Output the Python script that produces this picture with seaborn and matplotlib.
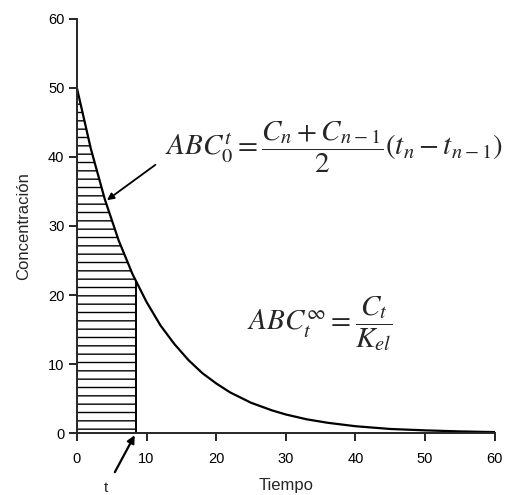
import numpy as np
import pandas as pd
import matplotlib
matplotlib.use("Agg")
import matplotlib.pyplot as plt
import seaborn as sns

# ---------------------------
# Data
# ---------------------------
tiempo = [0, 2, 4, 6, 8, 10, 12, 14, 16, 18, 20, 22, 25, 28, 30, 33, 36,
          40, 45, 50, 55, 60]
concentracion = [50.0, 41.2, 33.9, 27.9, 23.0, 19.0, 15.6, 12.9, 10.6, 8.7,
                 7.2, 5.9, 4.4, 3.3, 2.7, 2.0, 1.5, 1.0, 0.6, 0.4, 0.25, 0.15]

# area under the curve up to t
t_corte = 8.5
area_t = [0, 2, 4, 6, 8, 8.5]
area_c = [50.0, 41.2, 33.9, 27.9, 23.0, 21.9]

ticks = [0, 10, 20, 30, 40, 50, 60]

df = pd.DataFrame({"Tiempo": tiempo, "Concentración": concentracion})

# ---------------------------
# Plot
# ---------------------------
sns.set_style("ticks")
plt.rcParams["font.family"] = ["Liberation Sans", "DejaVu Sans"]
plt.rcParams["mathtext.fontset"] = "stix"
plt.rcParams["hatch.linewidth"] = 1.0

fig = plt.figure(figsize=(5.23, 4.95), dpi=100)
ax = fig.add_axes([0.147, 0.125, 0.799, 0.837])

sns.lineplot(data=df, x="Tiempo", y="Concentración", color="black",
             linewidth=1.6, ax=ax)

# hatched area
ax.fill_between(area_t, 0, area_c, facecolor="white", edgecolor="black",
                hatch="--", linewidth=0)
ax.plot([t_corte, t_corte], [0, area_c[-1]], color="black", linewidth=1.4)

ax.set_xlim(0, 60)
ax.set_ylim(0, 60)
ax.set_xticks(ticks)
ax.set_yticks(ticks)
ax.tick_params(length=5.5, width=1.2, labelsize=10.5, colors="black")
ax.tick_params(axis="x", pad=8)
for s in ["left", "bottom"]:
    ax.spines[s].set_linewidth(1.4)
sns.despine(ax=ax)
ax.set_xlabel("Tiempo", fontsize=12, labelpad=9)
ax.set_ylabel("Concentración", fontsize=12, labelpad=12)

# formulas
ax.text(12.6, 41.3,
        r"$ABC_0^t = \dfrac{C_n + C_{n-1}}{2}\left(t_n - t_{n-1}\right)$",
        fontsize=21, ha="left", va="center")
ax.annotate("", xy=(4.0, 33.5), xytext=(11.6, 39.1),
            arrowprops=dict(arrowstyle="-|>", color="black", lw=1.3))

ax.text(24.4, 15.9, r"$ABC_t^{\infty} = \dfrac{C_t}{K_{el}}$",
        fontsize=21, ha="left", va="center")

# t marker below the axis
ax.annotate("t", xy=(8.3, -0.3), xytext=(4.2, -8.0),
            ha="center", va="center", fontsize=11, annotation_clip=False,
            arrowprops=dict(arrowstyle="-|>", color="black", lw=1.6,
                            shrinkA=5, shrinkB=0))

fig.savefig("out.png", dpi=100)
